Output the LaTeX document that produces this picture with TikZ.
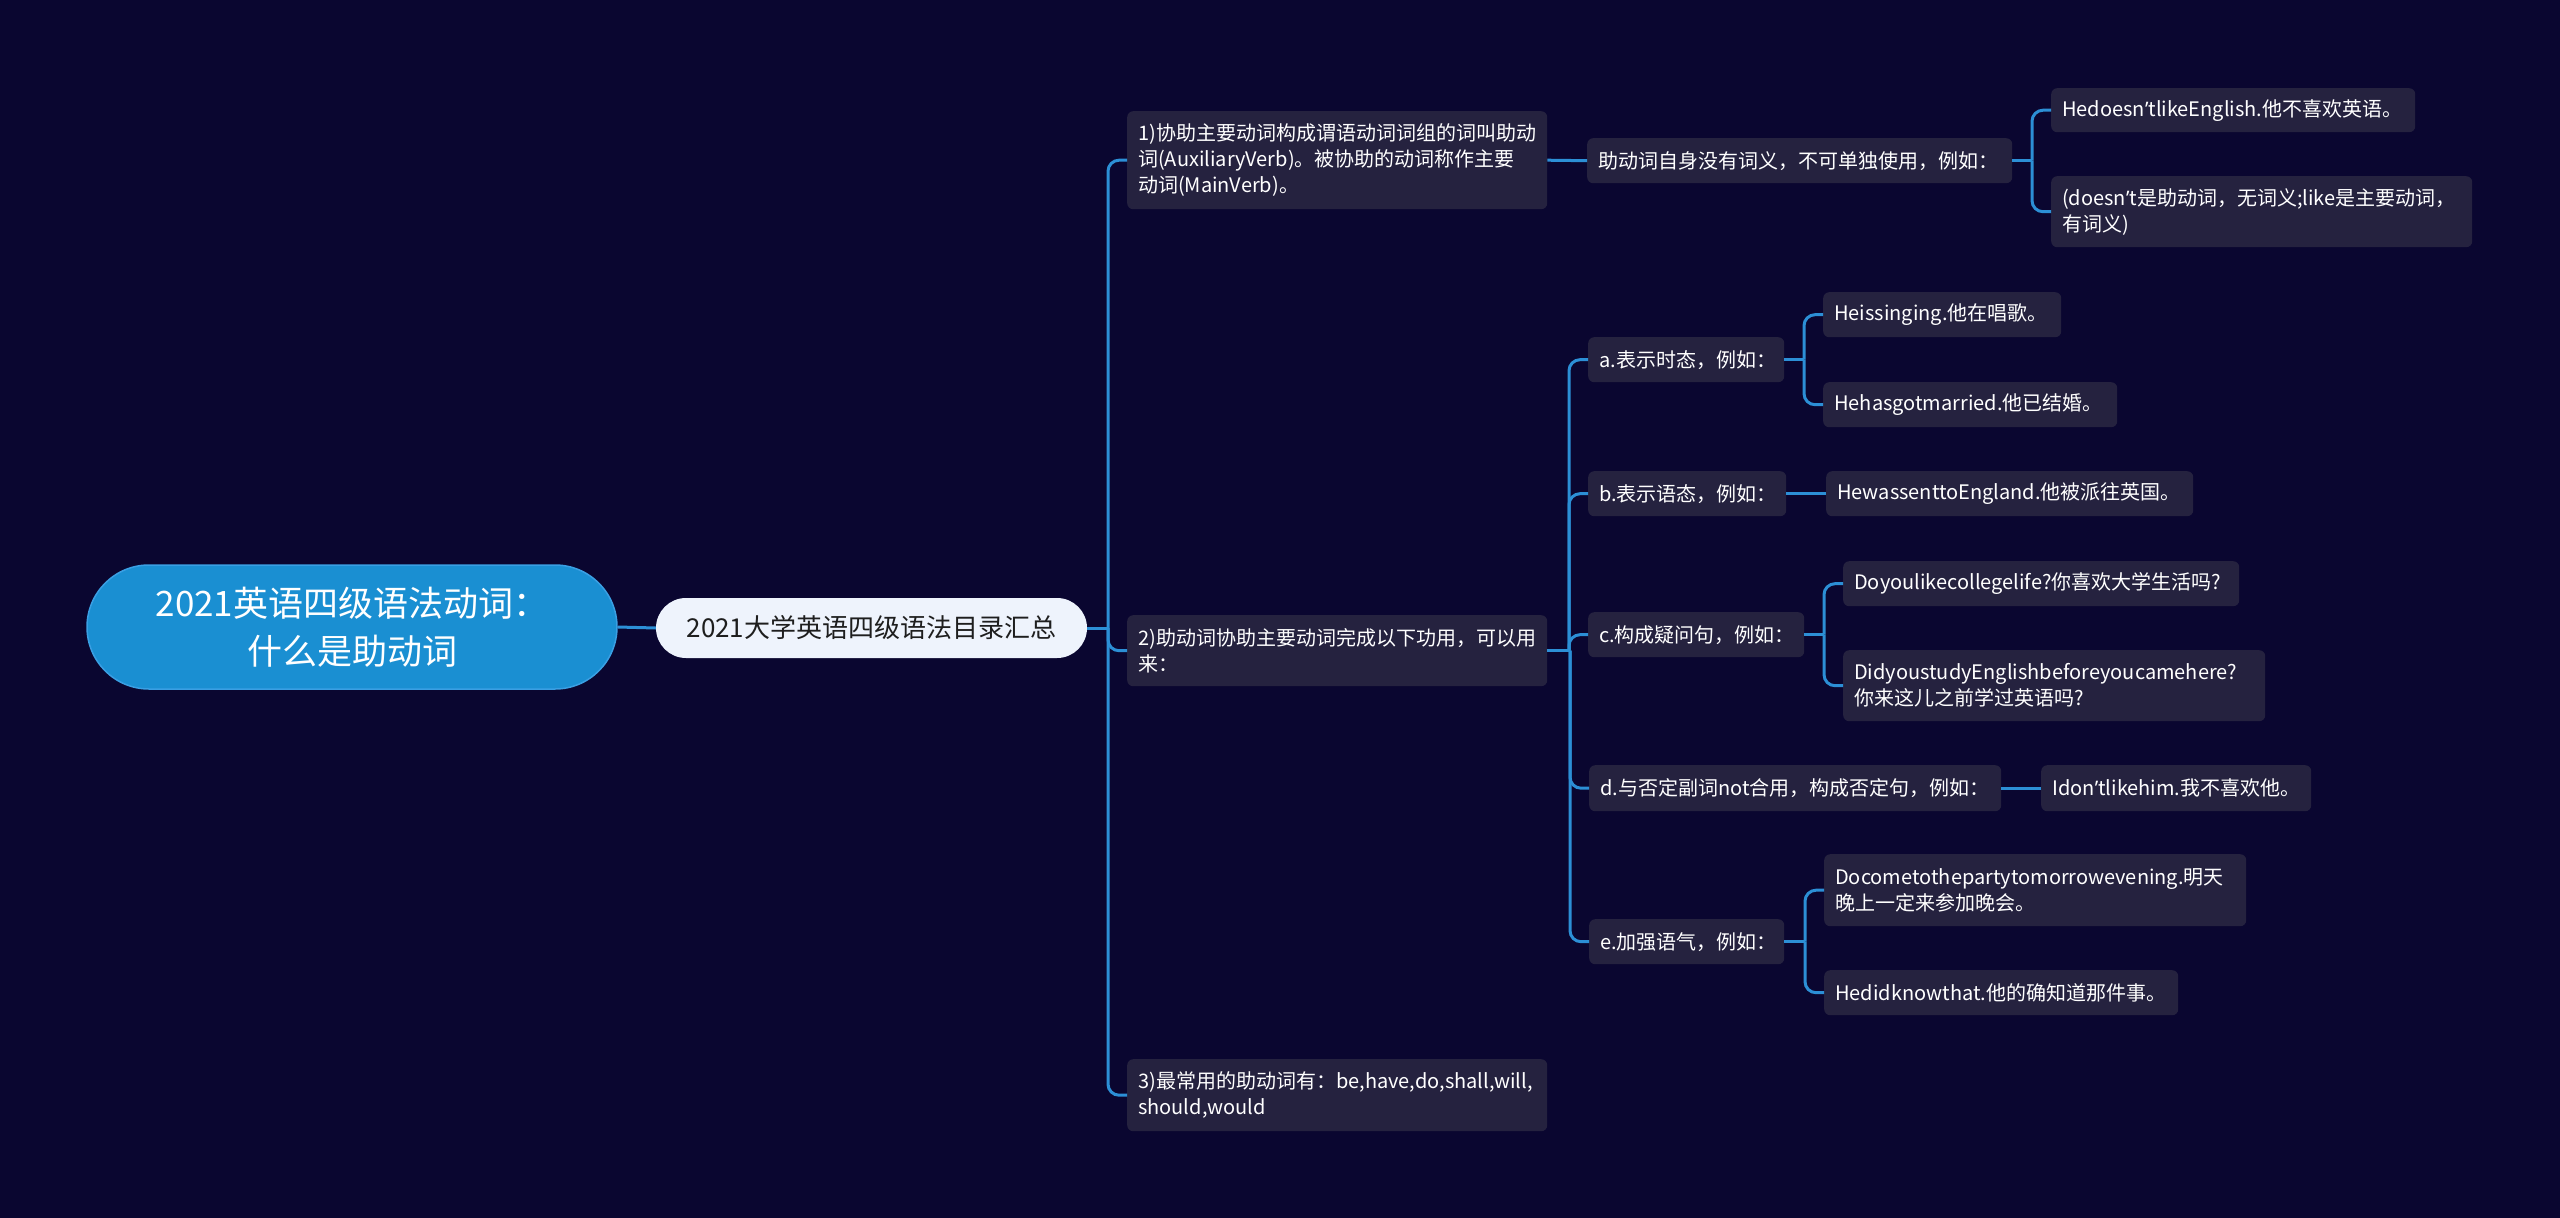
\documentclass[tikz,border=0pt]{standalone}
\usepackage{fontspec}
\setmainfont{Noto Sans CJK SC}
\newfontfamily\latinfont{Noto Sans}
\newcommand\apos{{\latinfont\char"2019}}
\usetikzlibrary{calc}
\definecolor{bgc}{HTML}{0A0630}
\definecolor{boxfill}{HTML}{25223F}
\definecolor{linec}{HTML}{2C8FD6}
\definecolor{rootfill}{HTML}{1A8FD2}
\definecolor{rootdraw}{HTML}{3A9FE3}
\definecolor{lonefill}{HTML}{EEF3FC}
\definecolor{lonetext}{HTML}{1E1E1E}
\newcommand\mmbranch[2]{%
  \draw[conn] (#1.east) -- ([xshift=-19pt]#2.west |- #1.east);
  \draw[conn, rounded corners=11pt] ([xshift=-19pt]#2.west |- #1.east) -- ([xshift=-19pt]#2.west) -- (#2.west);}
\begin{document}
\begin{tikzpicture}[x=1pt,y=-1pt,
  box/.style={fill=boxfill, rounded corners=6pt, text=white, align=left,
    inner xsep=11pt, inner ysep=0pt, font=\fontsize{20}{26}\selectfont, anchor=north west},
  rootbox/.style={fill=rootfill, draw=rootdraw, line width=1.5pt, rounded corners=62pt,
    text=white, align=center, minimum width=530pt, minimum height=124pt,
    font=\fontsize{35}{48}\selectfont},
  lonebox/.style={fill=lonefill, rounded corners=30pt, text=lonetext,
    minimum width=431pt, minimum height=60pt, font=\fontsize{26}{30}\selectfont},
  conn/.style={draw=linec, line width=3pt}
]
\fill[bgc] (0,0) rectangle (2560,1218);
\useasboundingbox (0,0) rectangle (2560,1218);

% root and first level
\node[rootbox] (root) at (352,627) {2021英语四级语法动词：\\什么是助动词};
\node[lonebox] (lone) at (871.5,628) {2021大学英语四级语法目录汇总};

% second level
\node[box, text width=398pt, minimum height=98pt] (n1) at (1127,111)
  {1)协助主要动词构成谓语动词词组的词叫助动\\词(AuxiliaryVerb)。被协助的动词称作主要\\动词(MainVerb)。};
\node[box, text width=398pt, minimum height=71pt] (n2) at (1127,615)
  {2)助动词协助主要动词完成以下功用，可以用\\来：};
\node[box, text width=398pt, minimum height=72pt] (n3) at (1127,1059)
  {3)最常用的助动词有：be,have,do,shall,will,\\should,would};

% under 1)
\node[box, text width=403pt, minimum height=45pt] (n1c) at (1587,138)
  {助动词自身没有词义，不可单独使用，例如：};
\node[box, text width=342pt, minimum height=44pt] (l1a) at (2051,88)
  {Hedoesn\apos tlikeEnglish.他不喜欢英语。};
\node[box, text width=399pt, minimum height=71pt] (l1b) at (2051,176)
  {(doesn\apos t是助动词，无词义;like是主要动词，\\有词义)};

% under 2)
\node[box, text width=174pt, minimum height=45pt] (a) at (1588,337) {a.表示时态，例如：};
\node[box, text width=216pt, minimum height=45pt] (a1) at (1823,292) {Heissinging.他在唱歌。};
\node[box, text width=272pt, minimum height=45pt] (a2) at (1823,382) {Hehasgotmarried.他已结婚。};

\node[box, text width=176pt, minimum height=45pt] (b) at (1588,471) {b.表示语态，例如：};
\node[box, text width=345pt, minimum height=45pt] (b1) at (1826,471) {HewassenttoEngland.他被派往英国。};

\node[box, text width=194pt, minimum height=45pt] (c) at (1588,612) {c.构成疑问句，例如：};
\node[box, text width=374pt, minimum height=45pt] (c1) at (1843,561) {Doyoulikecollegelife?你喜欢大学生活吗?};
\node[box, text width=400pt, minimum height=71pt] (c2) at (1843,650)
  {DidyoustudyEnglishbeforeyoucamehere?\\你来这儿之前学过英语吗?};

\node[box, text width=390pt, minimum height=46pt] (d) at (1589,765) {d.与否定副词not合用，构成否定句，例如：};
\node[box, text width=248pt, minimum height=46pt] (d1) at (2041,765) {Idon\apos tlikehim.我不喜欢他。};

\node[box, text width=173pt, minimum height=45pt] (e) at (1589,919) {e.加强语气，例如：};
\node[box, text width=400pt, minimum height=72pt] (e1) at (1824,854)
  {Docometothepartytomorrowevening.明天\\晚上一定来参加晚会。};
\node[box, text width=332pt, minimum height=45pt] (e2) at (1824,970) {Hedidknowthat.他的确知道那件事。};

% connectors
\draw[conn] (root.east) -- (lone.west);
\mmbranch{lone}{n1}
\mmbranch{lone}{n2}
\mmbranch{lone}{n3}
\draw[conn] (n1.east) -- (n1c.west);
\mmbranch{n1c}{l1a}
\mmbranch{n1c}{l1b}
\mmbranch{n2}{a}
\mmbranch{n2}{b}
\mmbranch{n2}{c}
\mmbranch{n2}{d}
\mmbranch{n2}{e}
\mmbranch{a}{a1}
\mmbranch{a}{a2}
\draw[conn] (b.east) -- (b1.west);
\mmbranch{c}{c1}
\mmbranch{c}{c2}
\draw[conn] (d.east) -- (d1.west);
\mmbranch{e}{e1}
\mmbranch{e}{e2}
\end{tikzpicture}
\end{document}
